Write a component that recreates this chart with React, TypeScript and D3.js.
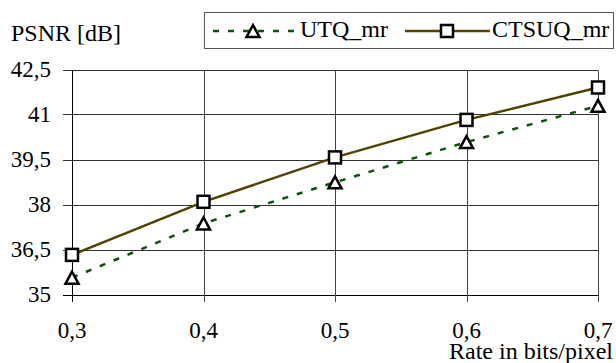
import React from 'react';
import * as d3 from 'd3';

// rate (bits/pixel) and PSNR values
const rates = [0.3, 0.4, 0.5, 0.6, 0.7];
const utqMr = [35.56, 37.37, 38.74, 40.08, 41.29];
const ctsuqMr = [36.32, 38.09, 39.57, 40.82, 41.9];
const yTicks = [35, 36.5, 38, 39.5, 41, 42.5];
const xTicks = [0.3, 0.4, 0.5, 0.6, 0.7];

const W = 616;
const H = 363;
const FONT = "'Times New Roman', Times, 'Liberation Serif', 'Nimbus Roman', 'DejaVu Serif', 'Noto Serif', serif";
const GREEN = '#0b520b';
const OLIVE = '#4f4400';

const fmt = (v: number) => String(v).replace('.', ',');

const triPath = (cx: number, cy: number) => {
  const w = 6.5, h = 6;
  return `M${cx},${cy - h}L${cx + w},${cy + h}L${cx - w},${cy + h}Z`;
};

const txt = { fontFamily: FONT };

export default function App() {
  const x = d3.scaleLinear().domain([0.3, 0.7]).range([72, 598]);
  const y = d3.scaleLinear().domain([35, 42.5]).range([294.5, 69.5]);

  const line = d3.line<number>()
    .x((_, i) => x(rates[i]))
    .y(d => y(d));

  const px = (v: number) => Math.round(v) + 0.5;

  return (
    <svg width={W} height={H} style={{ position: 'absolute', left: 0, top: 0, background: '#fff' }}>
      {/* horizontal grid */}
      {yTicks.map(t => (
        <line key={'h' + t} x1={63} x2={598} y1={px(y(t))} y2={px(y(t))}
          stroke={t === 35 ? '#000' : '#333'} strokeWidth={1} />
      ))}
      {/* vertical grid */}
      {xTicks.map(t => (
        <line key={'v' + t} x1={px(x(t))} x2={px(x(t))} y1={px(y(42.5))} y2={302}
          stroke={t === 0.3 ? '#000' : '#444'} strokeWidth={1} />
      ))}

      {/* y tick labels */}
      {yTicks.map(t => (
        <text key={'yl' + t} x={51} y={y(t) + 7} textAnchor="end" fontSize={23} fill="#000" style={txt}>
          {fmt(t)}
        </text>
      ))}
      {/* x tick labels */}
      {xTicks.map(t => (
        <text key={'xl' + t} x={x(t)} y={338} textAnchor="middle" fontSize={23} fill="#000" style={txt}>
          {fmt(t)}
        </text>
      ))}

      <text x={11} y={41} fontSize={24} fill="#000" style={txt}>PSNR [dB]</text>
      <text x={613} y={359} textAnchor="end" fontSize={24} fill="#000" style={txt}>Rate in bits/pixel</text>

      {/* series lines */}
      <path d={line(utqMr) || ''} fill="none" stroke={GREEN} strokeWidth={2.5} strokeDasharray="6,9" />
      <path d={line(ctsuqMr) || ''} fill="none" stroke={OLIVE} strokeWidth={2.5} />

      {/* markers */}
      {utqMr.map((v, i) => (
        <path key={'t' + i} d={triPath(x(rates[i]), y(v))} fill="#fff" stroke="#000"
          strokeWidth={2.5} strokeLinejoin="miter" />
      ))}
      {ctsuqMr.map((v, i) => (
        <rect key={'s' + i} x={x(rates[i]) - 6} y={y(v) - 6} width={12} height={12}
          fill="#fff" stroke="#000" strokeWidth={2.5} />
      ))}

      {/* legend */}
      <rect x={204.5} y={12.5} width={409} height={36} fill="#fff" stroke="#555" strokeWidth={1} />
      <line x1={213} x2={297} y1={31} y2={31} stroke={GREEN} strokeWidth={2.5} strokeDasharray="6,9" />
      <path d={triPath(253, 31)} fill="#fff" stroke="#000" strokeWidth={2.5} />
      <text x={300} y={37} fontSize={24} fill="#000" style={txt}>UTQ_mr</text>
      <line x1={405} x2={490} y1={31} y2={31} stroke={OLIVE} strokeWidth={2.5} />
      <rect x={441} y={25} width={12} height={12} fill="#fff" stroke="#000" strokeWidth={2.5} />
      <text x={492} y={37} fontSize={24} fill="#000" style={txt}>CTSUQ_mr</text>
    </svg>
  );
}
